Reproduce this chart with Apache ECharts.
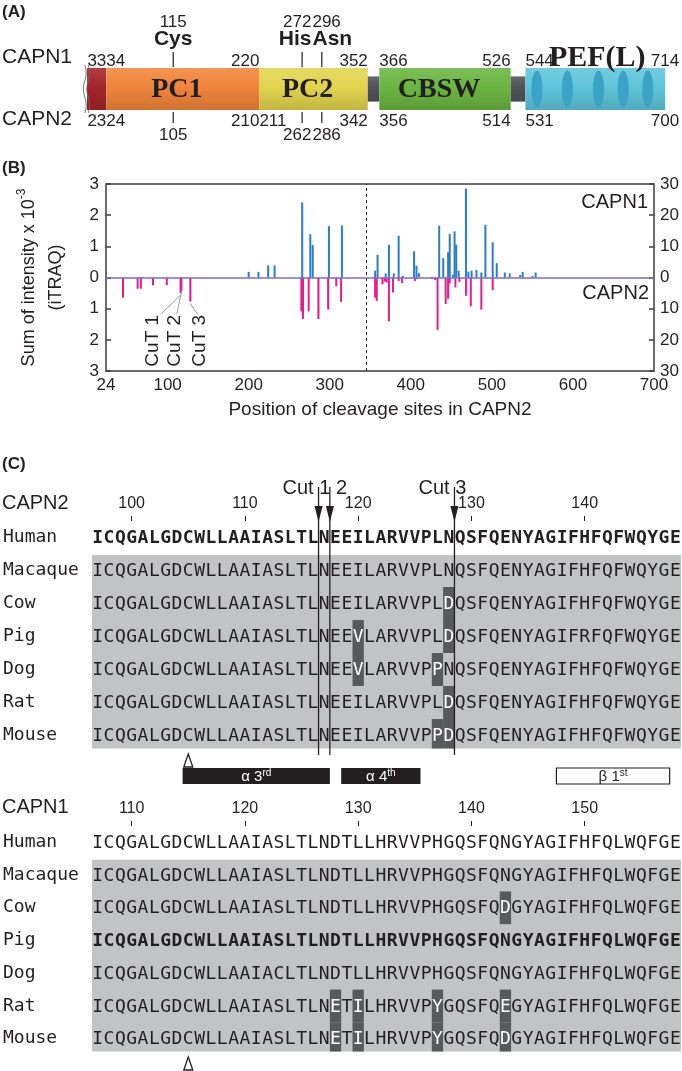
<!DOCTYPE html>
<html>
<head>
<meta charset="utf-8">
<script src="https://cdn.jsdelivr.net/npm/echarts@6.0.0/dist/echarts.min.js"></script>
<style>
html,body{margin:0;padding:0;background:#ffffff;}
#chart{width:682px;height:1071px;}
</style>
</head>
<body>
<div id="chart"></div>
<script>
// ================= DATA =================
// ---- Panel A: domain architecture (drawn on CAPN1 numbering) ----
const domainKinds  = ['nterm', 'PC1', 'PC2', 'linker', 'CBSW', 'linker', 'PEF'];
const domainLabels = ['', 'PC1', 'PC2', '', 'CBSW', '', 'PEF(L)'];
const domainStart  = [10, 33.5, 220, 352, 366, 526, 544];
const domainEnd    = [33.5, 220, 352, 366, 526, 544, 714];
const capn1StartLabels = [null, 34, null, null, 366, null, 544];
const capn1EndLabels   = [33, 220, 352, null, 526, null, 714];
const capn2StartLabels = [null, 24, 211, null, 356, null, 531];
const capn2EndLabels   = [23, 210, 342, null, 514, null, 700];
const efHandSites = [558, 595, 633, 663, 693];
const triadNames = ['Cys', 'His', 'Asn'];
const triadCapn1 = [115, 272, 296];
const triadCapn2 = [105, 262, 286];

// ---- Panel B: cleavage sites (sum of iTRAQ intensity x 10^-3) ----
const xTickLabels = [24, 100, 200, 300, 400, 500, 600, 700];
const capn1Sites = [200, 212, 224, 232, 266, 276, 279, 299, 315, 356, 359, 369, 373, 379, 385, 390, 404, 407, 410, 435, 440, 446, 448, 452, 454, 456, 459, 468, 471, 475, 481, 487, 492, 501, 506, 516, 522, 535, 538, 550, 554];
const capn1Intensity = [0.18, 0.18, 0.39, 0.39, 2.41, 1.39, 1.04, 1.65, 1.67, 0.22, 0.73, 0.13, 1.05, 0.13, 1.34, 0.05, 0.84, 0.38, 0.14, 1.66, 0.62, 0.81, 1.40, 0.09, 1.48, 1.05, 0.22, 2.85, 0.19, 0.22, 0.24, 0.16, 1.69, 1.13, 0.46, 0.16, 0.13, 0.08, 0.18, 0.05, 0.16];
const capn2Sites = [45, 63, 67, 82, 99, 116, 117, 128, 265, 267, 274, 286, 298, 308, 314, 356, 358, 365, 368, 370, 373, 378, 385, 389, 405, 408, 426, 430, 433, 443, 446, 448, 455, 460, 468, 474, 487, 501];
const capn2Intensity = [0.65, 0.36, 0.36, 0.25, 0.25, 0.50, 0.42, 0.77, 1.09, 1.33, 1.09, 1.33, 1.03, 0.28, 0.78, 0.65, 0.75, 0.22, 0.13, 0.16, 1.41, 0.48, 0.11, 0.18, 0.11, 0.05, 0.05, 0.08, 1.68, 0.85, 0.68, 0.19, 0.32, 0.14, 0.59, 0.92, 1.03, 0.41];
const cutNames = ['CuT 1', 'CuT 2', 'CuT 3'];
const cutSites = [116, 117, 128];
const cutLabelX = [82, 109, 140];
const cutLabelLevel = -2.03;
const domainBoundary = 345;

// ---- Panel C: alignments ----
const species = ['Human', 'Macaque', 'Cow', 'Pig', 'Dog', 'Rat', 'Mouse'];
const capn2Seqs = [
  'ICQGALGDCWLLAAIASLTLNEEILARVVPLNQSFQENYAGIFHFQFWQYGE',
  'ICQGALGDCWLLAAIASLTLNEEILARVVPLNQSFQENYAGIFHFQFWQYGE',
  'ICQGALGDCWLLAAIASLTLNEEILARVVPLDQSFQENYAGIFHFQFWQYGE',
  'ICQGALGDCWLLAAIASLTLNEEVLARVVPLDQSFQENYAGIFRFQFWQYGE',
  'ICQGALGDCWLLAAIASLTLNEEVLARVVPPNQSFQENYAGIFHFQFWQYGE',
  'ICQGALGDCWLLAAIASLTLNEEILARVVPLDQSFQENYAGIFHFQFWQYGE',
  'ICQGALGDCWLLAAIASLTLNEEILARVVPPDQSFQENYAGIFHFQFWQYGE'
];
const capn1Seqs = [
  'ICQGALGDCWLLAAIASLTLNDTLLHRVVPHGQSFQNGYAGIFHFQLWQFGE',
  'ICQGALGDCWLLAAIASLTLNDTLLHRVVPHGQSFQNGYAGIFHFQLWQFGE',
  'ICQGALGDCWLLAAIASLTLNDTLLHRVVPHGQSFQDGYAGIFHFQLWQFGE',
  'ICQGALGDCWLLAAIASLTLNDTLLHRVVPHGQSFQNGYAGIFHFQLWQFGE',
  'ICQGALGDCWLLAAIACLTLNDTLLHRVVPHGQSFQNGYAGIFHFQLWQFGE',
  'ICQGALGDCWLLAAIASLTLNETILHRVVPYGQSFQEGYAGIFHFQLWQFGE',
  'ICQGALGDCWLLAAIASLTLNETILHRVVPYGQSFQDGYAGIFHFQLWQFGE'
];
const capn2FirstResidue = 97;
const capn1FirstResidue = 107;
const capn2Ticks = [100, 110, 120, 130, 140];
const capn1Ticks = [110, 120, 130, 140, 150];
// [row, residue] of substitutions shown on dark background
const capn2Highlights = [[2, 128], [3, 120], [3, 128], [4, 120], [4, 127], [5, 128], [6, 127], [6, 128]];
const capn1Highlights = [[2, 143], [5, 128], [5, 130], [5, 137], [5, 143], [6, 128], [6, 130], [6, 137], [6, 143]];
const capn2BoldRow = 0;
const capn1BoldRow = 3;
const shadedRows = [1, 6];
const capn2CutAfter = [116, 117, 128];
const cutGroupText = ['Cut 1 2', 'Cut 3'];
const cutGroupFirst = [0, 2];
const capn2Cys = 105;
const capn1Cys = 115;
const ssNames = ['α 3', 'α 4', 'β 1'];
const ssSup = ['rd', 'th', 'st'];
const ssType = ['helix', 'helix', 'strand'];
const ssStart = [105, 119, 138];
const ssEnd = [117, 125, 147];

// ================= STYLE =================
const SANS = '"Liberation Sans", Arial, sans-serif';
const SERIF = '"Liberation Serif", "Times New Roman", serif';
const MONO = '"DejaVu Sans Mono", monospace';
const INK = '#231f20';
const DOMAIN_STYLE = {
  nterm: { color: '#a5242c', inset: 0 },
  PC1: { color: '#f0853b', inset: 0 },
  PC2: { color: '#e2d44f', inset: 0 },
  linker: { color: '#4e5457', inset: 0.2 },
  CBSW: { color: '#6bb542', inset: 0 },
  PEF: { color: '#5fc5da', inset: 0 }
};

function mix(hex, f) {
  const n = parseInt(hex.slice(1), 16);
  let r = n >> 16, g = (n >> 8) & 255, b = n & 255;
  const t = f > 0 ? 255 : 0, p = Math.abs(f);
  r = Math.round(r + (t - r) * p); g = Math.round(g + (t - g) * p); b = Math.round(b + (t - b) * p);
  return 'rgb(' + r + ',' + g + ',' + b + ')';
}
function tube(hex) {
  return new echarts.graphic.LinearGradient(0, 0, 0, 1, [
    { offset: 0, color: mix(hex, 0.12) },
    { offset: 0.45, color: hex },
    { offset: 1, color: mix(hex, -0.14) }
  ]);
}
function txt(text, x, y, o) {
  o = o || {};
  const align = o.align || 'left', va = o.va || 'middle';
  const style = {
    text: text, fill: o.fill || INK, fontFamily: o.family || SANS, fontSize: o.size || 16,
    fontWeight: o.weight || 'normal', align: align, verticalAlign: va,
    textAlign: align, textVerticalAlign: va
  };
  if (o.rich) style.rich = o.rich;
  return { type: 'text', x: x, y: y, rotation: o.rotation || 0, silent: true, style: style };
}
function seg(x1, y1, x2, y2, color, w) {
  return { type: 'line', silent: true, shape: { x1: x1, y1: y1, x2: x2, y2: y2 }, style: { stroke: color || INK, lineWidth: w || 1.2 } };
}

// ================= PANEL A RENDER =================
function renderDomain(params, api) {
  const i = params.dataIndex;
  const kind = domainKinds[i];
  const st = DOMAIN_STYLE[kind];
  const isLast = i === domainKinds.length - 1;
  const a = api.coord([domainStart[i], 1]);
  const b = api.coord([domainEnd[i], 0]);
  const top = a[1], bot = b[1], h = bot - top;
  const y0 = top + h * st.inset, y1 = bot - h * st.inset;
  const kids = [{ type: 'rect', silent: true, shape: { x: a[0], y: y0, width: b[0] - a[0], height: y1 - y0 }, style: { fill: tube(st.color) } }];
  if (kind === 'PEF') {
    efHandSites.forEach(function (s) {
      const c = api.coord([s, 0.5]);
      kids.push({ type: 'ellipse', silent: true, shape: { cx: c[0], cy: c[1], rx: 5.5, ry: h * 0.44 }, style: { fill: '#3aa3c6' } });
    });
  }
  if (kind === 'nterm') {
    [-2.2, 1.2].forEach(function (dx) {
      const pts = [];
      for (let k = 0; k <= 24; k++) {
        const yy = top - 3 + (h + 6) * k / 24;
        pts.push([a[0] + dx + 1.4 * Math.sin(k / 24 * Math.PI * 3), yy]);
      }
      kids.push({ type: 'polyline', silent: true, shape: { points: pts }, style: { stroke: '#6b6b6b', lineWidth: 0.9, fill: null } });
    });
  }
  if (domainLabels[i]) {
    if (kind === 'PEF') {
      kids.push(txt(domainLabels[i], (a[0] + b[0]) / 2 + 2, top - 10, { family: SERIF, weight: 'bold', size: 30, align: 'center' }));
    } else {
      kids.push(txt(domainLabels[i], (a[0] + b[0]) / 2 - 6, top + h / 2 + 1, { family: SERIF, weight: 'bold', size: 28, align: 'center' }));
    }
  }
  const endAlign = isLast ? 'center' : 'right';
  if (capn1StartLabels[i] != null) kids.push(txt(String(capn1StartLabels[i]), a[0], top - 7, { align: 'left', size: 17 }));
  if (capn1EndLabels[i] != null) kids.push(txt(String(capn1EndLabels[i]), b[0], top - 7, { align: endAlign, size: 17 }));
  if (capn2StartLabels[i] != null) kids.push(txt(String(capn2StartLabels[i]), a[0], bot + 11, { align: 'left', size: 17 }));
  if (capn2EndLabels[i] != null) kids.push(txt(String(capn2EndLabels[i]), b[0], bot + 11, { align: endAlign, size: 17 }));
  return { type: 'group', children: kids };
}

function renderTriad(params, api) {
  const i = params.dataIndex;
  const t = api.coord([triadCapn1[i], 1]);
  const bt = api.coord([triadCapn1[i], 0]);
  const x = t[0];
  let align = 'center', ax = x;
  const n = triadCapn1.length;
  if (i < n - 1 && triadCapn1[i + 1] - triadCapn1[i] < 40) {
    align = 'right'; ax = (x + api.coord([triadCapn1[i + 1], 1])[0]) / 2 - 0.5;
  } else if (i > 0 && triadCapn1[i] - triadCapn1[i - 1] < 40) {
    align = 'left'; ax = (x + api.coord([triadCapn1[i - 1], 1])[0]) / 2 + 0.5;
  }
  return { type: 'group', children: [
    seg(x, t[1] - 16, x, t[1] - 1),
    seg(x, bt[1] + 2, x, bt[1] + 13),
    txt(triadNames[i], ax, t[1] - 29, { align: align, size: 21, weight: 'bold' }),
    txt(String(triadCapn1[i]), ax, t[1] - 46, { align: align, size: 17 }),
    txt(String(triadCapn2[i]), ax, bt[1] + 25, { align: align, size: 17 })
  ] };
}

// ================= PANEL B RENDER =================
function renderCutLabel(params, api) {
  const i = params.dataIndex;
  const depth = capn2Intensity[capn2Sites.indexOf(cutSites[i])];
  const bar = api.coord([cutSites[i], -depth]);
  const t = api.coord([cutLabelX[i], cutLabelLevel]);
  const sx = t[0] + Math.max(-3, Math.min(9, (bar[0] - t[0]) * 0.3));
  return { type: 'group', children: [
    seg(sx, t[1] - 27, bar[0], bar[1] + 2, '#9b9b9b', 1),
    txt(cutNames[i], t[0], t[1], { align: 'center', size: 19, rotation: Math.PI / 2 })
  ] };
}

// ================= PANEL C RENDER =================
function alignmentSeries(xi, yi, seqs, first, highlights, boldRow) {
  const data = [], meta = [];
  const hl = new Set(highlights.map(function (h) { return h[0] + ':' + h[1]; }));
  seqs.forEach(function (s, r) {
    for (let k = 0; k < s.length; k++) {
      const res = first + k;
      data.push([res, r]);
      meta.push({ ch: s[k], hl: hl.has(r + ':' + res), bold: r === boldRow });
    }
  });
  const last = first + seqs[0].length - 1;
  const gray = {
    type: 'custom', xAxisIndex: xi, yAxisIndex: yi, z: 1, silent: true,
    data: [[first, shadedRows[0]]],
    renderItem: function (params, api) {
      const bh = api.size([0, 1])[1];
      const p0 = api.coord([first - 0.5, shadedRows[0]]);
      const p1 = api.coord([last + 0.5, shadedRows[1]]);
      const y0 = p0[1] - bh / 2 + 1, y1 = p1[1] + bh / 2 - 3.5;
      return { type: 'rect', shape: { x: p0[0], y: y0, width: p1[0] - p0[0], height: y1 - y0 }, style: { fill: '#c2c3c5' } };
    }
  };
  const chars = {
    type: 'custom', xAxisIndex: xi, yAxisIndex: yi, z: 3, silent: true,
    data: data,
    renderItem: function (params, api) {
      const m = meta[params.dataIndex];
      const c = api.coord([api.value(0), api.value(1)]);
      const cw = api.size([1, 0])[0];
      const bh = api.size([0, 1])[1];
      const kids = [];
      if (m.hl) {
        const grayBottom = api.coord([first, shadedRows[1]])[1] + bh / 2 - 3.5;
        const y0 = c[1] - bh / 2, y1 = Math.min(c[1] + bh / 2, grayBottom);
        kids.push({ type: 'rect', shape: { x: c[0] - cw / 2, y: y0, width: cw, height: y1 - y0 }, style: { fill: '#58595b' } });
      }
      kids.push(txt(m.ch, c[0], c[1] + 1, { align: 'center', family: MONO, size: 18, weight: m.bold ? 'bold' : 'normal', fill: m.hl ? '#ffffff' : INK }));
      return { type: 'group', children: kids };
    }
  };
  return [gray, chars];
}

function deltaSeries(xi, yi, cys) {
  return {
    type: 'custom', xAxisIndex: xi, yAxisIndex: yi, z: 4, silent: true,
    data: [[cys, 0]],
    renderItem: function (params, api) {
      const x = api.coord([cys, 0])[0];
      const yb = params.coordSys.y + params.coordSys.height;
      return { type: 'polygon', shape: { points: [[x, yb + 2], [x - 4.5, yb + 15], [x + 4.5, yb + 15]] }, style: { fill: '#ffffff', stroke: INK, lineWidth: 1.3 } };
    }
  };
}

const capn2Align = alignmentSeries(2, 3, capn2Seqs, capn2FirstResidue, capn2Highlights, capn2BoldRow);
const capn1Align = alignmentSeries(3, 4, capn1Seqs, capn1FirstResidue, capn1Highlights, capn1BoldRow);

const cutLineSeries = {
  type: 'custom', xAxisIndex: 2, yAxisIndex: 3, z: 5, silent: true,
  data: capn2CutAfter.map(function (r) { return [r + 0.5, 0]; }),
  renderItem: function (params, api) {
    const x = api.coord([api.value(0), 0])[0];
    const gt = params.coordSys.y, gb = gt + params.coordSys.height;
    return { type: 'group', children: [
      seg(x, gt - 34, x, gb + 3, INK, 1.3),
      { type: 'polygon', shape: { points: [[x - 4, gt - 15], [x + 4, gt - 15], [x, gt + 1]] }, style: { fill: INK } }
    ] };
  }
};
const cutTextSeries = {
  type: 'custom', xAxisIndex: 2, yAxisIndex: 3, z: 5, silent: true,
  data: cutGroupFirst.map(function (ci) { return [capn2CutAfter[ci] + 0.5, 0]; }),
  renderItem: function (params, api) {
    const x = api.coord([api.value(0), 0])[0];
    const gt = params.coordSys.y;
    return txt(cutGroupText[params.dataIndex], x - 36, gt - 33, { align: 'left', size: 20 });
  }
};
const ssSeries = {
  type: 'custom', xAxisIndex: 2, yAxisIndex: 3, z: 2, silent: true,
  data: ssStart.map(function (s, i) { return [s, ssEnd[i]]; }),
  renderItem: function (params, api) {
    const i = params.dataIndex;
    const x0 = api.coord([ssStart[i] - 0.5, 0])[0];
    const x1 = api.coord([ssEnd[i] + 0.5, 0])[0];
    const gb = params.coordSys.y + params.coordSys.height;
    const helix = ssType[i] === 'helix';
    const col = helix ? '#ffffff' : INK;
    return { type: 'group', children: [
      { type: 'rect', shape: { x: x0, y: gb + 16, width: x1 - x0, height: 16 }, style: helix ? { fill: INK } : { fill: '#ffffff', stroke: INK, lineWidth: 1.2 } },
      { type: 'text', x: (x0 + x1) / 2, y: gb + 24.5, style: {
        text: '{m|' + ssNames[i] + '}{s|' + ssSup[i] + '}', align: 'center', verticalAlign: 'middle', textAlign: 'center', textVerticalAlign: 'middle',
        rich: {
          m: { fontSize: 15, fontFamily: SANS, fill: col, color: col, verticalAlign: 'bottom', lineHeight: 16 },
          s: { fontSize: 10, fontFamily: SANS, fill: col, color: col, verticalAlign: 'top', lineHeight: 16 }
        } } }
    ] };
  }
};

// ================= OPTION =================
const axisTextStyle = { fontFamily: SANS, fontSize: 17, color: INK };
const option = {
  animation: false,
  backgroundColor: '#ffffff',
  grid: [
    { left: 87, right: 17, top: 68, height: 42 },
    { left: 106, right: 28, top: 184, height: 187, show: true, borderColor: '#3d3d3d', borderWidth: 1.5, backgroundColor: 'transparent' },
    { left: 91, right: 1, top: 521, height: 231 },
    { left: 91, right: 1, top: 826, height: 229 }
  ],
  xAxis: [
    { gridIndex: 0, type: 'value', min: 10, max: 714, show: false },
    { gridIndex: 1, type: 'value', min: 24, max: 700,
      axisLine: { show: false }, axisTick: { show: false }, splitLine: { show: false },
      axisLabel: Object.assign({ customValues: xTickLabels, margin: 6 }, axisTextStyle),
      name: 'Position of cleavage sites in CAPN2', nameLocation: 'middle', nameGap: 29,
      nameTextStyle: { fontFamily: SANS, fontSize: 19, color: INK } },
    { gridIndex: 2, type: 'value', min: capn2FirstResidue - 0.5, max: capn2FirstResidue + capn2Seqs[0].length - 0.5, position: 'top',
      axisLine: { show: false }, splitLine: { show: false },
      axisTick: { show: true, customValues: capn2Ticks, length: 5, lineStyle: { color: INK, width: 1 } },
      axisLabel: { customValues: capn2Ticks, margin: 9, fontFamily: SANS, fontSize: 16, color: INK } },
    { gridIndex: 3, type: 'value', min: capn1FirstResidue - 0.5, max: capn1FirstResidue + capn1Seqs[0].length - 0.5, position: 'top',
      axisLine: { show: false }, splitLine: { show: false },
      axisTick: { show: true, customValues: capn1Ticks, length: 5, lineStyle: { color: INK, width: 1 } },
      axisLabel: { customValues: capn1Ticks, margin: 9, fontFamily: SANS, fontSize: 16, color: INK } }
  ],
  yAxis: [
    { gridIndex: 0, type: 'value', min: 0, max: 1, show: false },
    { gridIndex: 1, type: 'value', min: -3, max: 3, interval: 1,
      axisLine: { show: false }, splitLine: { show: false },
      axisTick: { show: true, inside: true, length: 5, lineStyle: { color: '#3d3d3d', width: 1.5 } },
      axisLabel: Object.assign({ margin: 7, formatter: function (v) { return String(Math.abs(v)); } }, axisTextStyle),
      name: 'Sum of intensity x 10{sup|-3}\n(iTRAQ)', nameLocation: 'middle', nameGap: 36, nameRotate: 90,
      nameTextStyle: { fontFamily: SANS, fontSize: 18, color: INK, lineHeight: 27,
        rich: { sup: { fontFamily: SANS, fontSize: 12, color: INK, verticalAlign: 'top', lineHeight: 27 } } } },
    { gridIndex: 1, type: 'value', position: 'right', min: -30, max: 30, interval: 10,
      axisLine: { show: false }, splitLine: { show: false },
      axisTick: { show: true, inside: true, length: 5, lineStyle: { color: '#3d3d3d', width: 1.5 } },
      axisLabel: Object.assign({ margin: 6, formatter: function (v) { return String(Math.abs(v)); } }, axisTextStyle) },
    { gridIndex: 2, type: 'category', data: species, inverse: true,
      axisLine: { show: false }, axisTick: { show: false }, splitLine: { show: false },
      axisLabel: { interval: 0, margin: 89, align: 'left', fontFamily: MONO, fontSize: 18, color: INK } },
    { gridIndex: 3, type: 'category', data: species, inverse: true,
      axisLine: { show: false }, axisTick: { show: false }, splitLine: { show: false },
      axisLabel: { interval: 0, margin: 89, align: 'left', fontFamily: MONO, fontSize: 18, color: INK } }
  ],
  series: [
    { type: 'custom', xAxisIndex: 0, yAxisIndex: 0, silent: true, z: 2,
      data: domainStart.map(function (s, i) { return [s, domainEnd[i]]; }), renderItem: renderDomain },
    { type: 'custom', xAxisIndex: 0, yAxisIndex: 0, silent: true, z: 3,
      data: triadCapn1.map(function (s) { return [s, 1]; }), renderItem: renderTriad },
    { type: 'bar', name: 'CAPN1', xAxisIndex: 1, yAxisIndex: 1, barWidth: 2, barGap: '-100%', silent: true,
      itemStyle: { color: '#2c7ccb' },
      data: capn1Sites.map(function (s, i) { return [s, capn1Intensity[i]]; }),
      markLine: { silent: true, symbol: ['none', 'none'], label: { show: false }, animation: false,
        data: [
          { xAxis: domainBoundary, lineStyle: { type: [3, 3], color: INK, width: 1 } },
          { yAxis: 0, lineStyle: { type: 'solid', color: '#7d6bc4', width: 1.6 } }
        ] } },
    { type: 'bar', name: 'CAPN2', xAxisIndex: 1, yAxisIndex: 1, barWidth: 2, barGap: '-100%', silent: true,
      itemStyle: { color: '#ea1a8c' },
      data: capn2Sites.map(function (s, i) { return [s, -capn2Intensity[i]]; }) },
    { type: 'custom', xAxisIndex: 1, yAxisIndex: 1, silent: true, z: 4,
      data: cutSites.map(function (s, i) { return [cutLabelX[i], cutLabelLevel]; }), renderItem: renderCutLabel },
    capn2Align[0], capn2Align[1], capn1Align[0], capn1Align[1],
    cutLineSeries, cutTextSeries, ssSeries,
    deltaSeries(2, 3, capn2Cys), deltaSeries(3, 4, capn1Cys)
  ],
  graphic: [
    txt('(A)', 2, 12, { weight: 'bold', size: 17 }),
    txt('CAPN1', 2, 57, { size: 21 }),
    txt('CAPN2', 2, 119, { size: 21 }),
    txt('(B)', 2, 168, { weight: 'bold', size: 17 }),
    txt('CAPN1', 648, 202, { size: 20, align: 'right' }),
    txt('CAPN2', 649, 293, { size: 20, align: 'right' }),
    txt('(C)', 2, 464, { weight: 'bold', size: 17 }),
    txt('CAPN2', 2, 503, { size: 20 }),
    txt('CAPN1', 2, 807, { size: 20 })
  ]
};

const chart = echarts.init(document.getElementById('chart'), null, { renderer: 'canvas' });
chart.setOption(option);
</script>
</body>
</html>
